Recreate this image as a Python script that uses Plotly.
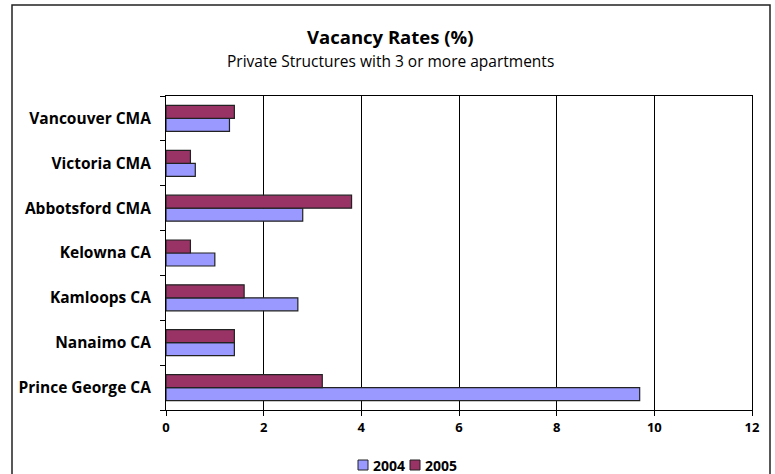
import plotly.graph_objects as go

categories = ["Vancouver CMA", "Victoria CMA", "Abbotsford CMA", "Kelowna CA",
              "Kamloops CA", "Nanaimo CA", "Prince George CA"]
rates_2004 = [1.3, 0.6, 2.8, 1.0, 2.7, 1.4, 9.7]
rates_2005 = [1.4, 0.5, 3.8, 0.5, 1.6, 1.4, 3.2]
x_ticks = [0, 2, 4, 6, 8, 10, 12]
series_names = ["2004", "2005"]
series_colors = ["#9999FF", "#993366"]

# bottom-to-top order for plotly horizontal bars
cats_rev = categories[::-1]
values_rev = [rates_2004[::-1], rates_2005[::-1]]

FONT = "'Open Sans', Lato, sans-serif"

fig = go.Figure()
for name, vals, col in zip(series_names, values_rev, series_colors):
    fig.add_trace(go.Bar(y=cats_rev, x=vals, orientation="h", name=name,
                         marker=dict(color=col, line=dict(color="#222222", width=1.2))))

L, R, T, B = 166, 23, 96, 64
W, H = 775, 474
pw, ph = W - L - R, H - T - B

def px_x(p):
    return (p - L) / pw

def px_y(p):
    return (H - B - p) / ph

# custom legend (compact, like the original)
legend_shapes = []
legend_annots = []
leg_x = [358, 410]
for lx, name, col in zip(leg_x, series_names, series_colors):
    legend_shapes.append(dict(type="rect", xref="paper", yref="paper",
                              x0=px_x(lx), x1=px_x(lx + 10), y0=px_y(470), y1=px_y(460),
                              fillcolor=col, line=dict(color="#222222", width=1)))
    legend_annots.append(dict(text="<b>%s</b>" % name, xref="paper", yref="paper",
                              x=px_x(lx + 13), y=px_y(465), xanchor="left", yanchor="middle",
                              showarrow=False, font=dict(size=14, family=FONT)))

fig.update_layout(
    width=W, height=H,
    margin=dict(l=L, r=R, t=T, b=B, autoexpand=False),
    paper_bgcolor="white", plot_bgcolor="white",
    barmode="group", bargap=0.42, bargroupgap=0,
    font=dict(family=FONT, color="black", size=12),
    showlegend=False,
    xaxis=dict(range=[0, 12], tickvals=x_ticks, ticktext=[str(t) for t in x_ticks],
               showgrid=True, gridcolor="black", gridwidth=1,
               showline=True, linecolor="black", linewidth=1, mirror=True,
               ticks="outside", ticklen=5, tickcolor="black",
               tickfont=dict(size=13, family=FONT, weight="bold"),
               ticklabelstandoff=0,
               zeroline=False, fixedrange=True),
    yaxis=dict(showline=True, linecolor="black", linewidth=1, mirror=True,
               ticks="outside", ticklen=5, tickcolor="black", tickson="boundaries",
               tickfont=dict(size=15.5, family=FONT, weight="bold"),
               ticklabelstandoff=11,
               showgrid=False, fixedrange=True),
    annotations=[
        dict(text="<b>Vacancy Rates (%)</b>", xref="paper", yref="paper",
             x=px_x(390), y=px_y(36.5), xanchor="center", yanchor="middle",
             showarrow=False, font=dict(size=18.5, family=FONT)),
        dict(text="Private Structures with 3 or more apartments", xref="paper", yref="paper",
             x=px_x(390), y=px_y(60.5), xanchor="center", yanchor="middle",
             showarrow=False, font=dict(size=15.5, family=FONT)),
    ] + legend_annots,
    shapes=[
        dict(type="rect", xref="paper", yref="paper",
             x0=px_x(12), x1=px_x(770), y0=px_y(490), y1=px_y(5),
             line=dict(color="#222222", width=1.5), layer="below"),
    ] + legend_shapes,
)

fig.write_html("out.html", config={"displayModeBar": False},
               post_script="document.body.style.margin='0';")
